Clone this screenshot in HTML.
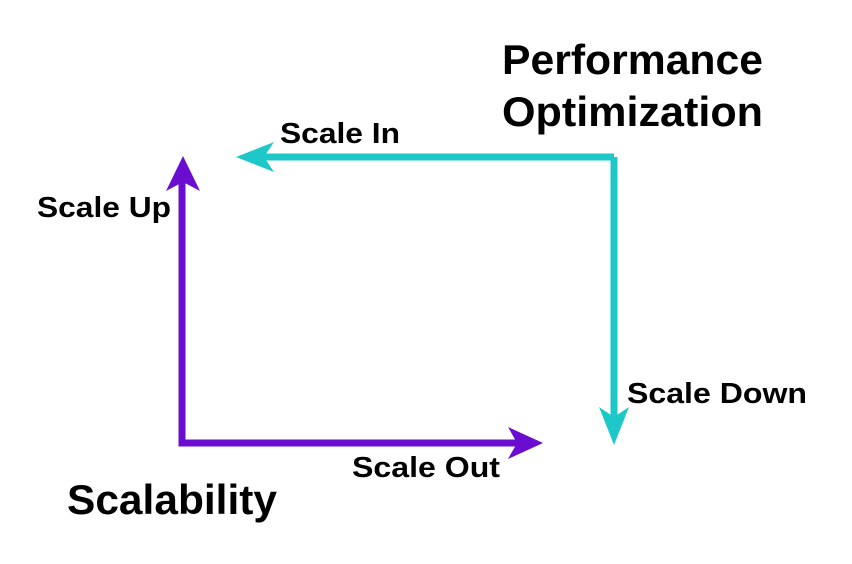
<!DOCTYPE html>
<html><head><style>
html,body{margin:0;padding:0;background:#fff;}
</style></head><body>
<svg width="852" height="564" viewBox="0 0 852 564" xmlns="http://www.w3.org/2000/svg" style="display:block">
<g font-family="Liberation Sans, sans-serif" font-weight="bold" fill="#000">
<text x="502" y="74" font-size="42" textLength="261" lengthAdjust="spacingAndGlyphs">Performance</text>
<text x="502" y="126" font-size="42" textLength="261" lengthAdjust="spacingAndGlyphs">Optimization</text>
<text x="280" y="143" font-size="29" textLength="120" lengthAdjust="spacingAndGlyphs">Scale In</text>
<text x="37" y="217" font-size="29" textLength="134" lengthAdjust="spacingAndGlyphs">Scale Up</text>
<text x="627" y="403" font-size="29" textLength="180" lengthAdjust="spacingAndGlyphs">Scale Down</text>
<text x="352" y="477" font-size="29" textLength="148" lengthAdjust="spacingAndGlyphs">Scale Out</text>
<text x="67" y="514" font-size="42" textLength="210" lengthAdjust="spacingAndGlyphs">Scalability</text>
</g>
<g stroke-width="7" fill="none" stroke-linejoin="miter">
<polyline points="614,157 614,420" stroke="#1ec8c8"/>
<polyline points="614,157 258,157" stroke="#1ec8c8"/>
<polyline points="182,178 182,443 520,443" stroke="#6a0dd0"/>
</g>
<polygon points="236,157 274,142 264,157 274,172" fill="#1ec8c8"/>
<polygon points="614,445 599,407 614,417 629,407" fill="#1ec8c8"/>
<polygon points="183,156 200,191 183,182 166,191" fill="#6a0dd0"/>
<polygon points="543,443 508,427 517,443 508,459" fill="#6a0dd0"/>
</svg>
</body></html>
